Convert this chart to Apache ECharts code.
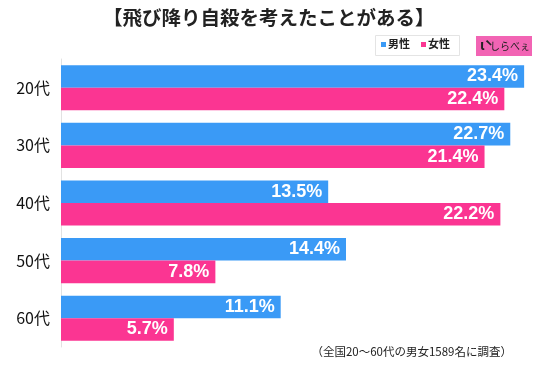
<!DOCTYPE html>
<html>
<head>
<meta charset="utf-8">
<script src="https://cdn.jsdelivr.net/npm/echarts@6/dist/echarts.min.js"></script>
<style>
html,body{margin:0;padding:0;background:#fff;}
#c{width:550px;height:368px;}
</style>
</head>
<body>
<div id="c"></div>
<script>
const categories = ['20代', '30代', '40代', '50代', '60代'];
const maleValues = [23.4, 22.7, 13.5, 14.4, 11.1];
const femaleValues = [22.4, 21.4, 22.2, 7.8, 5.7];
const seriesNames = ['男性', '女性'];
const titleText = '【飛び降り自殺を考えたことがある】';
const noteText = '（全国20～60代の男女1589名に調査）';

const BLUE = '#3a9af6';
const PINK = '#fb3592';
const FONT = '"Noto Sans CJK JP", "Noto Sans", sans-serif';

const chart = echarts.init(document.getElementById('c'), null, {renderer: 'canvas'});

const labelCfg = {
  show: true,
  position: 'insideRight',
  distance: 6,
  color: '#fff',
  fontSize: 18,
  fontWeight: 'bold',
  fontFamily: '"Liberation Sans", Arial, sans-serif',
  formatter: p => p.value.toFixed(1) + '%'
};

chart.setOption({
  animation: false,
  backgroundColor: '#fff',
  title: {
    text: titleText,
    left: 98,
    top: 3,
    textStyle: {fontSize: 19.5, fontWeight: 'bold', color: '#222', fontFamily: FONT}
  },
  grid: {left: 61, right: 14, top: 59, bottom: 21, containLabel: false},
  xAxis: {
    type: 'value',
    min: 0,
    max: 24,
    show: false
  },
  yAxis: {
    type: 'category',
    data: categories,
    inverse: true,
    axisLine: {show: true, lineStyle: {color: '#e2e2e2', width: 1}},
    axisTick: {show: false},
    axisLabel: {color: '#111', fontSize: 16, margin: 11, fontFamily: FONT}
  },
  series: [
    {
      name: seriesNames[0], type: 'bar', data: maleValues,
      itemStyle: {color: BLUE}, barGap: '0%', barCategoryGap: '21.7%',
      label: labelCfg
    },
    {
      name: seriesNames[1], type: 'bar', data: femaleValues,
      itemStyle: {color: PINK}, barGap: '0%', barCategoryGap: '21.7%',
      label: labelCfg
    }
  ],
  graphic: [
    {type: 'rect', left: 375, top: 35, shape: {width: 84, height: 20},
     style: {fill: '#fff', stroke: '#e4e4e4', lineWidth: 1}},
    {type: 'rect', left: 381, top: 42, shape: {width: 5, height: 5}, style: {fill: BLUE}},
    {type: 'text', left: 388, top: 38, style: {text: seriesNames[0], fill: '#222', font: 'bold 11px ' + FONT}},
    {type: 'rect', left: 421, top: 42, shape: {width: 5, height: 5}, style: {fill: PINK}},
    {type: 'text', left: 428, top: 38, style: {text: seriesNames[1], fill: '#222', font: 'bold 11px ' + FONT}},
    {type: 'rect', left: 476, top: 36, shape: {width: 56, height: 20}, style: {fill: '#f264b4'}},
    {type: 'text', left: 480, top: 38, style: {text: 'ὶ', fill: '#222', font: 'bold 14px ' + FONT}},
    {type: 'text', left: 490, top: 41, style: {text: 'しらべぇ', fill: '#222', font: '10px ' + FONT}},
    {type: 'text', right: 38, top: 346, style: {text: noteText, fill: '#222', font: '11.5px ' + FONT}}
  ]
});
</script>
</body>
</html>
